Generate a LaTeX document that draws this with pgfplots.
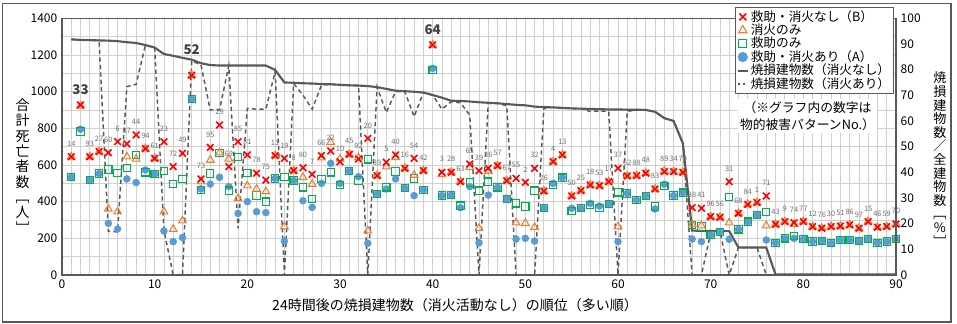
\documentclass[border=0pt]{standalone}
\usepackage{fontspec}
\setmainfont{Noto Sans CJK JP}
\usepackage{pgfplots}
\usepackage{pgfplotstable}
\pgfplotsset{compat=1.18}

\definecolor{axisgray}{HTML}{595959}
\definecolor{gridgray}{HTML}{D0D0D0}
\definecolor{crossred}{HTML}{FF0000}
\definecolor{triorange}{HTML}{ED7D31}
\definecolor{sqgreen}{HTML}{00B050}
\definecolor{dotblue}{HTML}{5B9BD5}
\definecolor{labelgray}{HTML}{6E6E6E}
\definecolor{boldgray}{HTML}{404040}

% deaths per scenario: B = no rescue/no firefighting, F = firefighting only,
% R = rescue only, A = rescue and firefighting; lab = damage pattern No.
\pgfplotstableread{
x B F R A lab
1 645 645 533 533 14
2 927 922 782 795 {}
3 645 645 518 518 93
4 673 673 553 553 27
5 667 360 576 282 60
6 727 345 555 251 6
7 715 645 582 524 87
8 764 633 655 504 44
9 689 689 560 573 94
10 636 636 551 551 61
11 727 345 567 240 23
12 591 250 495 182 72
13 664 296 522 204 49
14 1090 1090 960 960 {}
15 524 509 465 469 73
16 696 627 554 496 95
17 818 667 667 533 29
18 591 633 460 482 69
19 727 418 642 336 85
20 655 487 556 400 81
21 555 469 433 345 78
22 518 455 400 340 75
23 651 651 527 527 11
24 636 264 536 185 19
25 569 569 515 515 8
26 585 533 478 405 80
27 549 496 415 369 7
28 651 640 524 500 66
29 676 724 560 609 22
30 618 633 491 500 10
31 658 658 567 567 45
32 633 640 515 536 92
33 745 242 631 173 20
34 542 542 442 442 89
35 615 591 478 469 5
36 655 642 564 524 40
37 582 582 473 473 16
38 636 545 527 433 54
39 569 569 464 464 42
40 1255 1255 1118 1127 {}
41 560 549 433 433 3
42 560 560 436 436 28
43 509 509 378 367 63
44 605 587 505 482 65
45 569 255 460 176 39
46 582 567 509 436 36
47 596 596 478 478 57
48 514 514 415 415 67
49 527 285 391 196 55
50 505 282 373 200 2
51 582 260 460 185 32
52 458 458 364 364 26
53 618 618 491 500 4
54 655 655 531 531 13
55 431 431 349 364 50
56 460 460 364 364 25
57 491 491 382 391 18
58 487 487 367 376 53
59 509 509 387 387 17
60 582 264 451 182 37
61 540 540 445 445 62
62 542 542 409 409 88
63 555 555 431 431 48
64 469 469 373 360 83
65 564 567 487 495 89
66 564 564 433 433 34
67 560 560 449 449 79
68 367 276 273 196 38
69 364 269 264 182 41
70 318 318 218 218 96
71 315 315 236 236 56
72 509 285 424 195 31
73 336 336 249 249 68
74 385 385 291 291 84
75 395 395 327 327 1
76 431 269 342 191 71
77 276 276 176 176 43
78 291 291 200 200 9
79 285 278 213 200 74
80 291 291 195 195 77
81 264 264 182 182 12
82 255 255 185 185 76
83 264 264 173 173 30
84 267 267 191 191 51
85 273 273 191 191 86
86 255 255 185 185 97
87 291 291 195 195 15
88 260 260 176 176 46
89 264 264 182 182 59
90 278 278 195 195 70
}\deaths

% highlighted pattern numbers (label centre, left-axis units)
\pgfplotstableread{
x y lab
2 1013 33
14 1227 52
40 1336 64
}\boldlabels

% burned buildings / all buildings [%]
\pgfplotstableread{
x nashi ari
1 91.8 91.8
2 91.6 91.6
3 91.5 91.5
4 91.4 91.4
5 91.3 17.0
6 91.1 16.8
7 90.7 73.4
8 90.4 74.3
9 89.6 89.6
10 88.6 88.6
11 86.1 17.5
12 85.4 0
13 84.6 0
14 83.9 83.5
15 82.5 81.8
16 81.8 64.3
17 81.6 64.3
18 81.6 81.6
19 81.6 18.2
20 81.6 64.9
21 81.6 64.6
22 81.6 64.6
23 79.9 79.2
24 75.0 0
25 74.9 74.6
26 74.7 70.1
27 74.6 64.6
28 74.4 74.0
29 74.3 74.3
30 74.1 74.1
31 73.9 73.9
32 73.8 73.8
33 73.6 0
34 73.2 73.2
35 72.5 63.3
36 71.8 71.5
37 71.6 71.4
38 71.4 61.7
39 71.1 71.1
40 70.1 70.1
41 69.1 64.6
42 67.9 67.5
43 67.8 67.1
44 67.6 62.3
45 67.3 0
46 67.1 66.9
47 66.9 66.9
48 66.6 65.9
49 66.3 0
50 66.1 0
51 65.6 0
52 65.4 65.0
53 65.3 65.3
54 65.1 65.1
55 64.9 64.9
56 64.8 64.8
57 64.7 63.7
58 64.6 63.9
59 64.5 63.7
60 64.5 0
61 64.4 63.7
62 64.4 64.4
63 64.3 64.3
64 63.6 63.6
65 61.1 61.1
66 60.0 60.0
67 51.3 51.3
68 17.3 0
69 17.2 0
70 17.2 16.3
71 17.1 17.1
72 17.1 0
73 10.7 10.7
74 10.7 10.7
75 10.7 10.7
76 10.7 0
77 0.2 0
78 0.2 0
79 0.2 0
80 0.2 0
81 0.2 0
82 0.2 0
83 0.2 0
84 0.2 0
85 0.2 0
86 0.2 0
87 0.2 0
88 0.2 0
89 0.2 0
90 0.2 0
}\burned

\pgfplotsset{
  frame/.style={
    at={(46.5pt,36.75pt)}, anchor=south west,
    scale only axis, width=625.5pt, height=192.5pt,
    xmin=0, xmax=90,
    major tick length=0pt, minor tick length=0pt,
    axis line style={draw=axisgray, line width=1.1pt},
    tick label style={font=\fontsize{9}{9}\selectfont, text=black},
    /pgf/number format/assume math mode=true,
    /pgf/number format/1000 sep={},
  },
}

\begin{document}
\begin{tikzpicture}[x=0.75pt, y=0.75pt]
\path[use as bounding box] (0,0) rectangle (957,324);
\draw[axisgray, line width=1.1pt] (2.5,1.8) rectangle (951,320.5);

\begin{axis}[frame,
  ymin=0, ymax=1400,
  xtick={0,10,...,90}, minor xtick={0,1,...,90},
  ytick={0,200,...,1400}, minor ytick={0,100,...,1400},
  grid=both,
  major grid style={draw=gridgray, line width=0.6pt},
  minor grid style={draw=gridgray, line width=0.6pt},
  legend cell align=left,
  legend image code/.code={\draw[mark repeat=2, mark phase=2, #1]
      plot coordinates {(0cm,0cm) (0.13cm,0cm) (0.26cm,0cm)};},
  legend style={at={(rel axis cs:0.9976,1.044)}, anchor=north east,
      draw=axisgray, line width=0.8pt, fill=white,
      font=\fontsize{9.5}{10}\selectfont, row sep=-1.9pt,
      inner xsep=1pt, inner ysep=1pt,
      nodes={inner xsep=1.5pt, inner ysep=1.2pt}},
]
% burned-building ratios, scaled from % to the left axis (100 % = 1400)
\addplot[forget plot, draw=axisgray, line width=1.1pt, dash pattern=on 3.2pt off 2.4pt]
  table[x=x, y expr=\thisrow{ari}*14] {\burned};
\addplot[forget plot, draw=axisgray, line width=1.6pt]
  table[x=x, y expr=\thisrow{nashi}*14] {\burned};

% deaths
\addplot[forget plot, only marks, mark=*, mark size=2.6pt, dotblue,
  mark options={draw=dotblue, fill=dotblue}] table[x=x, y=A] {\deaths};
\addplot[forget plot, only marks, mark=square, mark size=2.75pt, sqgreen,
  mark options={line width=0.8pt}] table[x=x, y=R] {\deaths};
\addplot[forget plot, only marks, mark=triangle, mark size=3.3pt, triorange,
  mark options={line width=0.8pt}] table[x=x, y=F] {\deaths};
\addplot[forget plot, only marks, mark=x, mark size=3.5pt, crossred,
  mark options={line width=1.2pt}] table[x=x, y=B] {\deaths};

% pattern numbers
\addplot[forget plot, draw=none, mark=none, nodes near coords,
  point meta=explicit symbolic,
  every node near coord/.append style={font=\fontsize{5.6}{6}\selectfont,
    text=labelgray, anchor=center, yshift=9.75pt, inner sep=0pt}]
  table[x=x, y=B, meta=lab] {\deaths};
\addplot[forget plot, draw=none, mark=none, nodes near coords,
  point meta=explicit symbolic,
  every node near coord/.append style={font=\fontsize{10}{10}\selectfont\bfseries,
    text=boldgray, anchor=center, inner sep=0pt}]
  table[x=x, y=y, meta=lab] {\boldlabels};

\addlegendimage{only marks, mark=x, mark size=3.6pt, crossred, mark options={line width=1.2pt}}
\addlegendentry{救助・消火なし（B）}
\addlegendimage{only marks, mark=triangle, mark size=3.6pt, triorange, mark options={line width=0.8pt}}
\addlegendentry{消火のみ}
\addlegendimage{only marks, mark=square, mark size=3pt, sqgreen, mark options={line width=0.8pt}}
\addlegendentry{救助のみ}
\addlegendimage{only marks, mark=*, mark size=3.4pt, dotblue}
\addlegendentry{救助・消火あり（A）}
\addlegendimage{axisgray, line width=1.6pt}
\addlegendentry{焼損建物数（消火なし）}
\addlegendimage{axisgray, line width=1.1pt, dash pattern=on 1.6pt off 2.4pt}
\addlegendentry{焼損建物数（消火あり）}
\end{axis}

% right-hand percentage scale
\begin{axis}[frame,
  ymin=0, ymax=100,
  axis x line=none, axis y line*=right,
  ytick={0,10,...,100},
]
\end{axis}

\node[fill=white, align=center, inner sep=0pt, minimum width=104pt, minimum height=26pt,
  font=\fontsize{9.6}{12.75}\selectfont] at (807.5,208) {（※グラフ内の数字は\\物的被害パターンNo.）};

\node[align=center, inner sep=0pt, font=\fontsize{10.5}{11.5}\selectfont]
  at (22.5,158) {合\\計\\死\\亡\\者\\数\\﹇\\人\\﹈};
\node[align=center, inner sep=0pt, font=\fontsize{9.8}{10.2}\selectfont]
  at (940,165) {焼\\損\\建\\物\\数\\／\\全\\建\\物\\数\\﹇\\\%\\﹈};
\node[inner sep=0pt, font=\fontsize{10.5}{10.5}\selectfont]
  at (455,19) {24時間後の焼損建物数（消火活動なし）の順位（多い順）};
\end{tikzpicture}
\end{document}
